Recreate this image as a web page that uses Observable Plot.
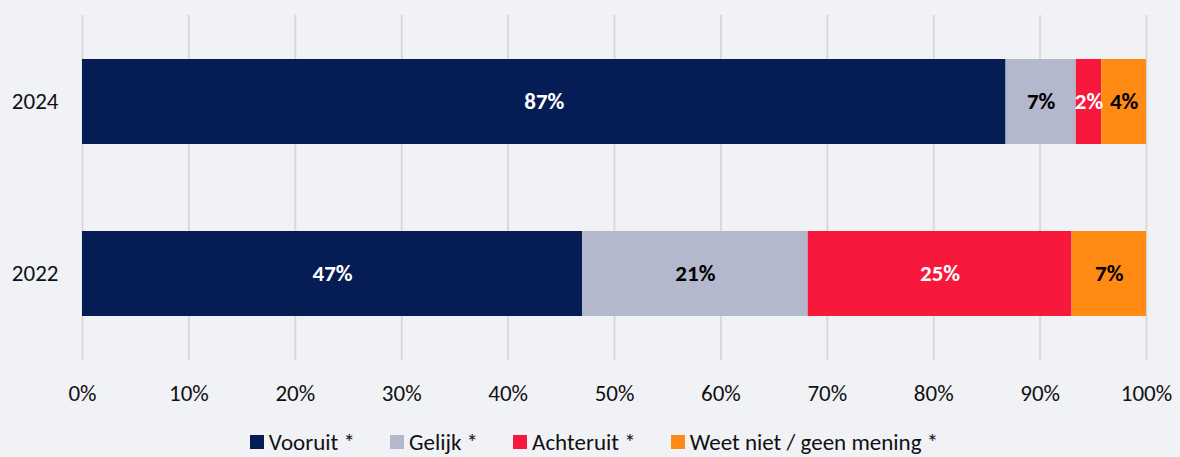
<!DOCTYPE html>
<html>
<head>
<meta charset="utf-8">
<script src="https://cdn.jsdelivr.net/npm/d3@7"></script>
<script src="https://cdn.jsdelivr.net/npm/@observablehq/plot@0.6"></script>
<style>
  html, body { margin: 0; padding: 0; background: #f0f2f6; }
  body { width: 1180px; height: 457px; overflow: hidden; font-family: Carlito, Calibri, "Open Sans", sans-serif; }
  #legend { display: flex; justify-content: center; align-items: center; gap: 35px; margin-top: 8px; height: 28px; line-height: 28px; font-size: 23px; color: #111; padding-left: 8px; }
  #legend .item { display: flex; align-items: center; gap: 5px; }
  #legend .sw { width: 14px; height: 14px; display: inline-block; }
</style>
</head>
<body>
<div id="chart"></div>
<div id="legend"></div>
<script>
const years = ["2024", "2022"];
const categories = ["Vooruit *", "Gelijk *", "Achteruit *", "Weet niet / geen mening *"];
const values2024 = [86.8, 6.6, 2.4, 4.2];
const values2022 = [47.0, 21.2, 24.8, 7.0];
const colors = ["#061c54", "#b4b8cc", "#f7183c", "#ff8a14"];
const labelColors = ["white", "black", "white", "black"];
const xTicks = [0, 10, 20, 30, 40, 50, 60, 70, 80, 90, 100];

const seriesByYear = {"2024": values2024, "2022": values2022};
const data = [];
for (const y of years) {
  categories.forEach((c, i) => data.push({year: y, category: c, value: seriesByYear[y][i], idx: i}));
}

const chart = Plot.plot({
  width: 1180,
  height: 420,
  marginTop: 15,
  marginBottom: 60,
  marginLeft: 82,
  marginRight: 34,
  style: {background: "transparent", fontFamily: "Carlito, Calibri, 'Open Sans', sans-serif", fontSize: "23px", color: "#111"},
  x: {domain: [0, 100], ticks: xTicks, tickFormat: d => d + "%", label: null},
  y: {domain: years, paddingInner: 0.503, paddingOuter: 0.249, label: null},
  color: {domain: categories, range: colors},
  marks: [
    Plot.gridX(xTicks, {stroke: "#d9d9d9", strokeWidth: 2, strokeOpacity: 1}),
    Plot.barX(data, Plot.stackX({x: "value", y: "year", fill: "category", order: null})),
    Plot.text(data, Plot.stackX({x: "value", y: "year", z: "category", order: null,
      text: d => labelColors[d.idx] === "white" ? Math.round(d.value) + "%" : "",
      fill: "white", fontSize: 23, fontWeight: "bold"})),
    Plot.text(data, Plot.stackX({x: "value", y: "year", z: "category", order: null,
      text: d => labelColors[d.idx] === "black" ? Math.round(d.value) + "%" : "",
      fill: "black", fontSize: 23, fontWeight: "bold"})),
    Plot.axisX({ticks: xTicks, tickFormat: d => d + "%", tickSize: 0, tickPadding: 24, fontSize: 23, label: null}),
    Plot.axisY({tickSize: 0, tickPadding: 24, fontSize: 23, label: null})
  ]
});
document.getElementById("chart").appendChild(chart);

const legend = document.getElementById("legend");
categories.forEach((c, i) => {
  const item = document.createElement("div");
  item.className = "item";
  const sw = document.createElement("span");
  sw.className = "sw";
  sw.style.background = colors[i];
  const t = document.createElement("span");
  t.textContent = c;
  item.appendChild(sw);
  item.appendChild(t);
  legend.appendChild(item);
});
</script>
</body>
</html>
